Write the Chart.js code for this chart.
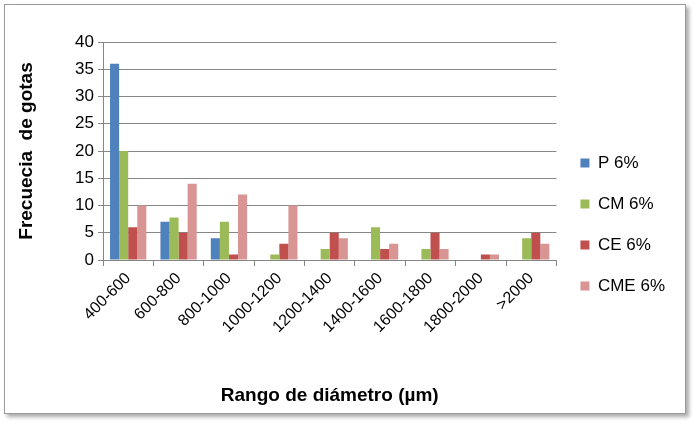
<!DOCTYPE html>
<html><head><meta charset="utf-8">
<script src="https://cdn.jsdelivr.net/npm/chart.js@4/dist/chart.umd.min.js"></script>
<style>
body{margin:0;background:#fff;}
#box{position:absolute;left:4px;top:4px;width:680px;height:408px;border:1px solid #9a9a9a;box-shadow:3px 3px 4px #aaa;background:#fff;}
</style></head><body>
<div id="box"><canvas id="c" width="680" height="408"></canvas></div>
<script>
const categories = ['400-600','600-800','800-1000','1000-1200','1200-1400','1400-1600','1600-1800','1800-2000','>2000'];
const p6   = [36, 7, 4, 0, 0, 0, 0, 0, 0];
const cm6  = [20, 7.8, 7, 1, 2, 6, 2, 0, 4];
const ce6  = [6, 5, 1, 3, 5, 2, 5, 1, 5];
const cme6 = [10, 14, 12, 10, 4, 3, 2, 1, 3];
const yTicks = [0, 5, 10, 15, 20, 25, 30, 35, 40];

const mk = (label, data, color) => ({label, data, backgroundColor: color, borderColor: color, borderWidth: 0, categoryPercentage: 0.72, barPercentage: 1});

new Chart(document.getElementById('c'), {
  type: 'bar',
  data: {
    labels: categories,
    datasets: [
      mk('P 6%', p6, '#4f81bd'),
      mk('CM 6%', cm6, '#9bbb59'),
      mk('CE 6%', ce6, '#c0504d'),
      mk('CME 6%', cme6, '#d99594')
    ]
  },
  options: {
    responsive: false,
    animation: false,
    layout: {padding: {left: 6, right: 10, top: 37, bottom: 6}},
    plugins: {
      legend: {
        position: 'right',
        align: 'center',
        labels: {boxWidth: 9, boxHeight: 9, padding: 24, color: '#000', font: {family: 'Liberation Sans', size: 17}}
      },
      tooltip: {enabled: false}
    },
    scales: {
      x: {
        afterFit: s => { s.height = 147; },
        grid: {display: true, drawOnChartArea: false, color: '#868686', tickLength: 6},
        border: {color: '#868686'},
        ticks: {color: '#000', maxRotation: 45, minRotation: 45, font: {family: 'Liberation Sans', size: 16}},
        title: {display: true, text: 'Rango de diámetro (µm)', color: '#000', font: {family: 'Liberation Sans', size: 19, weight: 'bold'}, padding: {top: 0, bottom: 0}}
      },
      y: {
        min: 0, max: 40,
        afterFit: s => { s.width = 92; },
        afterBuildTicks: axis => { axis.ticks = yTicks.map(v => ({value: v})); },
        grid: {color: '#868686', tickLength: 5},
        border: {color: '#868686'},
        ticks: {color: '#000', padding: 4, font: {family: 'Liberation Sans', size: 17}},
        title: {display: true, text: 'Frecuecia  de gotas', color: '#000', font: {family: 'Liberation Sans', size: 19, weight: 'bold'}, padding: {bottom: 8}}
      }
    }
  }
});
</script>
</body></html>
